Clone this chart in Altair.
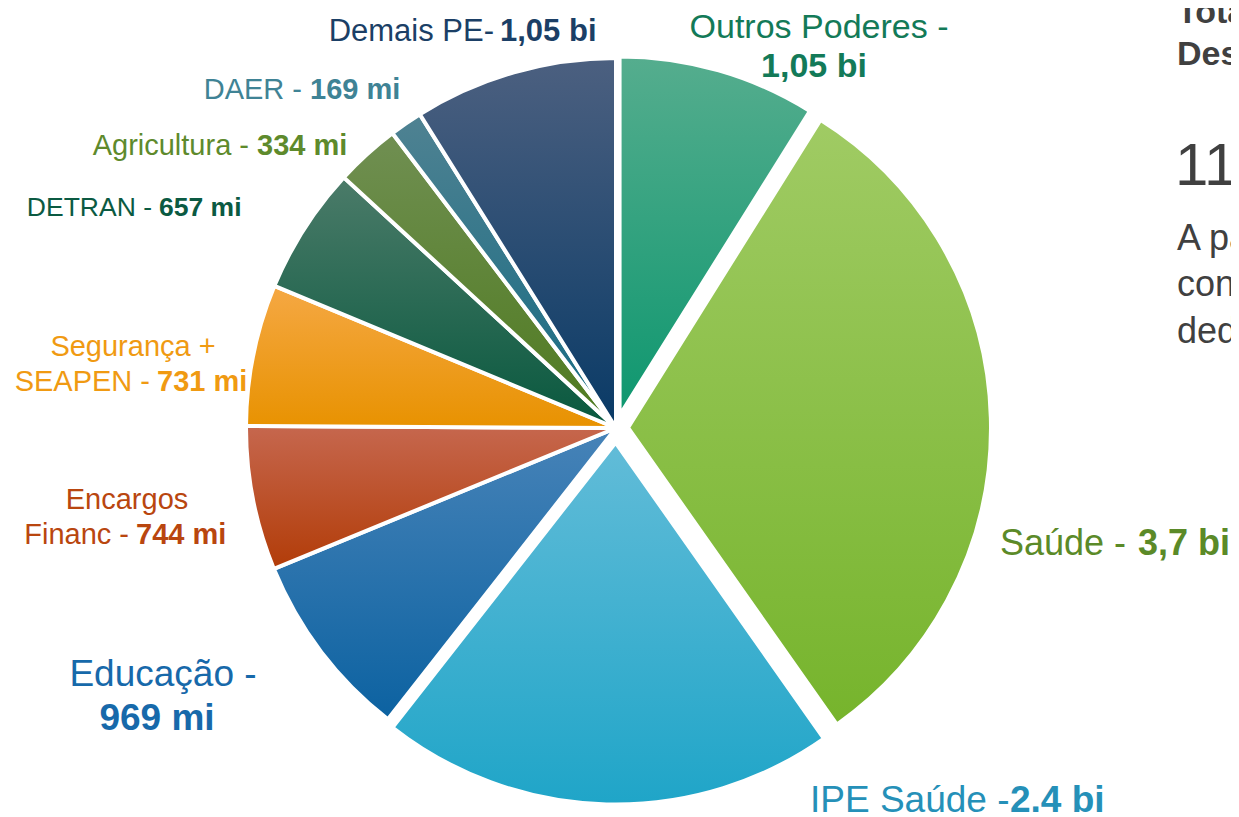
import altair as alt
import pandas as pd

FONT = "Liberation Sans"

# ---------------- data ----------------
categories = ["Outros Poderes", "Saúde", "IPE Saúde", "Educação", "Encargos Financ",
              "Segurança + SEAPEN", "DETRAN", "Agricultura", "DAER", "Demais PE"]
values_mi = [1050, 3700, 2400, 969, 744, 731, 657, 334, 169, 1050]

label_text = ["Outros Poderes -", "Saúde -", "IPE Saúde -", "Educação -", "Encargos|Financ -",
              "Segurança +|SEAPEN -", "DETRAN -", "Agricultura -", "DAER -", "Demais PE-"]
label_value = ["1,05 bi", "3,7 bi", "2.4 bi", "969 mi", "744 mi",
               "731 mi", "657 mi", "334 mi", "169 mi", "1,05 bi"]

side_bold = ["Total de", "Despesas"]
side_total = ["11,8 bi"]
side_lines = ["A partir", "considerando", "deduções"]

# ---------------- style ----------------
CX, CY = 608, 420          # pie centre (chart px)
R_DEFAULT = 370
explode = {"Outros Poderes": 13, "Saúde": 12, "IPE Saúde": 14.5}
radius = {"Outros Poderes": 359, "Saúde": 363, "IPE Saúde": 362}
gradients = {
    "Outros Poderes": ("#55ad8e", "#0e976f"),
    "Saúde": ("#a0cb64", "#76b42c"),
    "IPE Saúde": ("#62bcd8", "#1fa5c8"),
    "Educação": ("#4783b8", "#0c62a1"),
    "Encargos Financ": ("#c6674e", "#b23c08"),
    "Segurança + SEAPEN": ("#f5a844", "#e89200"),
    "DETRAN": ("#4b7b69", "#08583e"),
    "Agricultura": ("#708f52", "#4e7a1e"),
    "DAER": ("#4f8292", "#156a82"),
    "Demais PE": ("#4c6080", "#093a66"),
}
label_color = {
    "Outros Poderes": "#137a58", "Saúde": "#5b8a28", "IPE Saúde": "#2590b8",
    "Educação": "#1769aa", "Encargos Financ": "#b9460f", "Segurança + SEAPEN": "#f09a12",
    "DETRAN": "#0b5a42", "Agricultura": "#5e8a2c", "DAER": "#3f8395", "Demais PE": "#1b3f66",
}
# page-pixel layout of each label: font size, normal line anchors, bold-part anchor
OFF = 8
label_layout = {
    "Outros Poderes": (34, [(819, 38, "center")], (814, 77, "center")),
    "Saúde": (36, [(1000, 555, "left")], (1138, 555, "left")),
    "IPE Saúde": (37, [(810, 812, "left")], (1010, 812, "left")),
    "Educação": (37, [(163, 686, "center")], (157, 730, "center")),
    "Encargos Financ": (29, [(127, 509, "center"), (129, 544, "right")], (136, 544, "left")),
    "Segurança + SEAPEN": (29, [(133, 356, "center"), (150, 391, "right")], (157, 391, "left")),
    "DETRAN": (26.5, [(152, 216, "right")], (159, 216, "left")),
    "Agricultura": (29, [(249, 155, "right")], (257, 155, "left")),
    "DAER": (29, [(302, 99, "right")], (310, 99, "left")),
    "Demais PE": (31, [(494, 41, "right")], (500, 41, "left")),
}

# ---------------- pie ----------------
pie_src = pd.DataFrame({"cat": categories, "value": values_mi,
                        "order": list(range(len(categories)))})

base = (
    alt.Chart(pie_src)
    .transform_window(cum="sum(value)", sort=[alt.SortField("order")], frame=[None, 0])
    .transform_joinaggregate(total="sum(value)")
    .transform_calculate(t0="(datum.cum - datum.value) / datum.total * 2 * PI")
    .transform_calculate(t1="datum.cum / datum.total * 2 * PI")
    .transform_calculate(mid="(datum.t0 + datum.t1) / 2")
)

layers = []
for cat in categories:
    e = explode.get(cat, 0)
    r = radius.get(cat, R_DEFAULT)
    top, bottom = gradients[cat]
    grad = alt.LinearGradient(
        gradient="linear", x1=0, x2=0, y1=0, y2=1,
        stops=[alt.GradientStop(offset=0, color=top), alt.GradientStop(offset=1, color=bottom)],
    )
    layer = (
        base.transform_filter(alt.datum.cat == cat)
        .transform_calculate(cx=f"{CX} + {e} * sin(datum.mid)")
        .transform_calculate(cy=f"{CY} - {e} * cos(datum.mid)")
        .mark_arc(outerRadius=r, stroke="white", strokeWidth=4, fill=grad)
        .encode(
            theta=alt.Theta("t0:Q", scale=None, stack=None),
            theta2="t1:Q",
            x=alt.X("cx:Q", scale=None),
            y=alt.Y("cy:Q", scale=None),
        )
    )
    layers.append(layer)

# ---------------- labels ----------------
rows = []
for cat, txt, val in zip(categories, label_text, label_value):
    size, normal_pos, bold_pos = label_layout[cat]
    col = label_color[cat]
    for line, (x, y, al) in zip(txt.split("|"), normal_pos):
        rows.append(dict(txt=line, px=x - OFF, py=y - OFF, al=al, wt="normal", fs=size, col=col))
    x, y, al = bold_pos
    rows.append(dict(txt=val, px=x - OFF, py=y - OFF, al=al, wt="bold", fs=size, col=col))

for t, y in zip(side_bold, [23, 65]):
    rows.append(dict(txt=t, px=1177 - OFF, py=y - OFF, al="left", wt="bold", fs=34, col="#404040"))
rows.append(dict(txt=side_total[0], px=1175 - OFF, py=185 - OFF, al="left", wt="normal", fs=60, col="#404040"))
for t, y in zip(side_lines, [250, 296, 343]):
    rows.append(dict(txt=t, px=1177 - OFF, py=y - OFF, al="left", wt="normal", fs=36, col="#404040"))

labels = pd.DataFrame(rows)

for wt in ["normal", "bold"]:
    for al in ["left", "center", "right"]:
        sub = labels[(labels["wt"] == wt) & (labels["al"] == al)]
        if len(sub) == 0:
            continue
        layers.append(
            alt.Chart(sub)
            .mark_text(align=al, baseline="alphabetic", font=FONT, fontWeight=wt)
            .encode(
                x=alt.X("px:Q", scale=None),
                y=alt.Y("py:Q", scale=None),
                text="txt:N",
                color=alt.Color("col:N", scale=None),
                size=alt.Size("fs:Q", scale=None),
            )
        )

chart = (
    alt.layer(*layers)
    .properties(width=1223, height=809, padding=0, autosize="none", background="white")
    .configure_view(stroke=None)
)

chart.save("out.html", embed_options={"renderer": "svg", "actions": False})
